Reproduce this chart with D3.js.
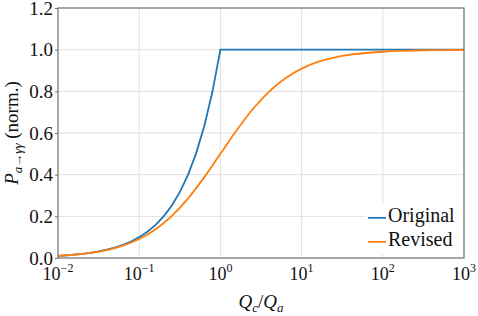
<!DOCTYPE html>
<html>
<head>
<meta charset="utf-8">
<script src="https://cdn.jsdelivr.net/npm/d3@7"></script>
<style>
  body { margin: 0; background: #fff; }
  svg text { font-family: 'Liberation Serif', serif !important; fill: #111; }
</style>
</head>
<body>
<div id="app"></div>
<script>
// values
const ratioOriginal = [0.01, 0.0126, 0.0158, 0.02, 0.0251, 0.0316, 0.0398, 0.0501, 0.0631, 0.0794,
  0.1, 0.126, 0.158, 0.2, 0.251, 0.316, 0.398, 0.501, 0.631, 0.794, 1, 1000];
const probOriginal = [0.010, 0.013, 0.016, 0.020, 0.025, 0.032, 0.040, 0.050, 0.063, 0.079,
  0.100, 0.126, 0.158, 0.200, 0.251, 0.316, 0.398, 0.501, 0.631, 0.794, 1.0, 1.0];

const ratioRevised = [0.01, 0.0158, 0.0251, 0.0398, 0.0631, 0.1, 0.158, 0.251, 0.398, 0.631,
  1, 1.585, 2.512, 3.98, 6.31, 10, 15.85, 25.1, 39.8, 63.1, 100, 158.5, 251, 398, 631, 1000];
const probRevised = [0.010, 0.0156, 0.0245, 0.0383, 0.0593, 0.0909, 0.137, 0.201, 0.285, 0.387,
  0.500, 0.613, 0.715, 0.799, 0.863, 0.909, 0.941, 0.962, 0.976, 0.984, 0.990, 0.994, 0.996, 0.9975, 0.998, 0.999];

const xTicks = [-2, -1, 0, 1, 2, 3];
const yTicks = [0, 0.2, 0.4, 0.6, 0.8, 1.0, 1.2];
const seriesNames = ['Original', 'Revised'];
const colors = ['#1f77b4', '#ff7f0e'];

const W = 478, H = 316;
const margin = { top: 8, right: 14, bottom: 58, left: 58 };
const width = W - margin.left - margin.right;
const height = H - margin.top - margin.bottom;
const FONT = "'Liberation Serif', serif";

const svg = d3.select('#app').append('svg')
  .attr('width', W)
  .attr('height', H)
  .attr('font-family', FONT);

const g = svg.append('g').attr('transform', `translate(${margin.left},${margin.top})`);

const x = d3.scaleLog().domain([1e-2, 1e3]).range([0, width]);
const y = d3.scaleLinear().domain([0, 1.2]).range([height, 0]);

// grid
g.append('g').selectAll('line')
  .data(xTicks)
  .join('line')
  .attr('x1', d => x(Math.pow(10, d))).attr('x2', d => x(Math.pow(10, d)))
  .attr('y1', 0).attr('y2', height)
  .attr('stroke', '#e0e0e0').attr('stroke-width', 1);
g.append('g').selectAll('line')
  .data(yTicks)
  .join('line')
  .attr('y1', d => y(d)).attr('y2', d => y(d))
  .attr('x1', 0).attr('x2', width)
  .attr('stroke', '#e0e0e0').attr('stroke-width', 1);

// y axis labels
const yAxis = g.append('g')
  .call(d3.axisLeft(y).tickValues(yTicks).tickFormat(d3.format('.1f')).tickSize(3).tickPadding(2))
  .attr('font-family', FONT)
  .attr('font-size', 19);
yAxis.select('.domain').remove();
yAxis.selectAll('line').attr('stroke', '#777');
yAxis.selectAll('text').attr('fill', '#111');

// x axis labels with superscripts
const xLab = g.append('g').attr('transform', `translate(0,${height})`);
const xt = xLab.selectAll('text')
  .data(xTicks)
  .join('text')
  .attr('x', d => x(Math.pow(10, d)))
  .attr('y', 22)
  .attr('text-anchor', 'middle')
  .attr('font-size', 18);
xt.append('tspan').text('10');
xt.append('tspan')
  .attr('dy', -8)
  .attr('font-size', 12)
  .text(d => d < 0 ? '\u2212' + Math.abs(d) : d);

// lines
const line = d3.line().x(d => x(d[0])).y(d => y(d[1]));
g.append('path')
  .datum(ratioOriginal.map((r, i) => [r, probOriginal[i]]))
  .attr('d', line)
  .attr('fill', 'none')
  .attr('stroke', colors[0])
  .attr('stroke-width', 1.8);
g.append('path')
  .datum(ratioRevised.map((r, i) => [r, probRevised[i]]))
  .attr('d', line.curve(d3.curveMonotoneX))
  .attr('fill', 'none')
  .attr('stroke', colors[1])
  .attr('stroke-width', 1.8);

// legend
const leg = g.append('g').attr('transform', `translate(${width - 98},${y(0.26)})`);
leg.append('rect')
  .attr('x', 0).attr('y', 0)
  .attr('width', 96).attr('height', 50)
  .attr('fill', '#fff');
seriesNames.forEach((name, i) => {
  const row = leg.append('g').attr('transform', `translate(0,${14 + i * 24})`);
  row.append('line')
    .attr('x1', 2).attr('x2', 20)
    .attr('y1', 0).attr('y2', 0)
    .attr('stroke', colors[i]).attr('stroke-width', 1.8);
  row.append('text')
    .attr('x', 22).attr('y', 4)
    .attr('font-size', 20)
    .text(name);
});

// frame
g.append('rect')
  .attr('width', width).attr('height', height)
  .attr('fill', 'none')
  .attr('stroke', '#777')
  .attr('stroke-width', 1.2);

// axis titles
const xTitle = svg.append('text')
  .attr('x', margin.left + width / 2)
  .attr('y', 308)
  .attr('text-anchor', 'middle')
  .attr('font-size', 19)
  .attr('font-style', 'italic');
xTitle.append('tspan').text('Q');
xTitle.append('tspan').attr('dy', 4).attr('font-size', 13).text('c');
xTitle.append('tspan').attr('dy', -4).attr('font-style', 'normal').text('/');
xTitle.append('tspan').text('Q');
xTitle.append('tspan').attr('dy', 4).attr('font-size', 13).text('a');

const yTitle = svg.append('text')
  .attr('transform', `translate(18,${margin.top + height / 2}) rotate(-90)`)
  .attr('text-anchor', 'middle')
  .attr('font-size', 19);
yTitle.append('tspan').attr('font-style', 'italic').text('P');
yTitle.append('tspan').attr('dy', 4).attr('font-size', 13).attr('font-style', 'italic').text('a\u2192\u03b3\u03b3');
yTitle.append('tspan').attr('dy', -4).text(' (norm.)');
</script>
</body>
</html>
